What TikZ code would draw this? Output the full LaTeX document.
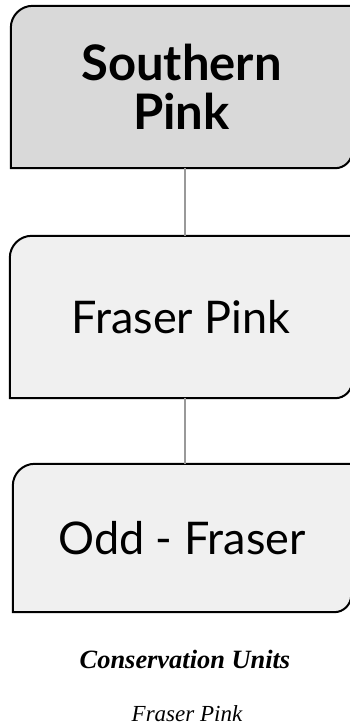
\documentclass[tikz,border=0pt]{standalone}
\usepackage{fontspec}
\newfontfamily\boxfont{Lato}
\newfontfamily\capfont{Liberation Serif}
\usetikzlibrary{calc,backgrounds}
\definecolor{topfill}{HTML}{D9D9D9}
\definecolor{boxfill}{HTML}{F0F0F0}
\definecolor{linkgray}{HTML}{999999}
\tikzset{
  cubox/.style={draw=none, inner sep=0pt, align=center,
    font=\boxfont\fontsize{45}{49}\selectfont},
  boxedge/.style={draw=black, line width=2pt},
  link/.style={draw=linkgray, line width=1.3pt},
  captext/.style={anchor=base, inner sep=0pt, font=\capfont\itshape}
}
\begin{document}
\begin{tikzpicture}[x=1pt,y=1pt]
\useasboundingbox (0,0) rectangle (350,-725);
\node[cubox, minimum width=341pt, minimum height=162pt] (b1) at (181.5,-87) {\fontsize{49}{49}\selectfont\bfseries Southern\\\fontsize{49}{49}\selectfont\bfseries Pink};
\node[cubox, minimum width=342pt, minimum height=162pt] (b2) at (181,-317) {Fraser Pink};
\node[cubox, minimum width=338pt, minimum height=148pt] (b3) at (182,-538) {Odd - Fraser};
\coordinate (cx) at (185,0);
\begin{scope}[on background layer]
\draw[boxedge, fill=topfill] (b1.south west) -- ($(b1.north west)+(0,-22)$) arc[start angle=180,end angle=90,radius=22pt] -- (b1.north east) -- ($(b1.south east)+(0,17)$) arc[start angle=0,end angle=-90,radius=17pt] -- cycle;
\draw[boxedge, fill=boxfill] (b2.south west) -- ($(b2.north west)+(0,-22)$) arc[start angle=180,end angle=90,radius=22pt] -- (b2.north east) -- ($(b2.south east)+(0,17)$) arc[start angle=0,end angle=-90,radius=17pt] -- cycle;
\draw[boxedge, fill=boxfill] (b3.south west) -- ($(b3.north west)+(0,-22)$) arc[start angle=180,end angle=90,radius=22pt] -- (b3.north east) -- ($(b3.south east)+(0,17)$) arc[start angle=0,end angle=-90,radius=17pt] -- cycle;
\end{scope}
\draw[link] (b1.south -| cx) -- (b2.north -| cx);
\draw[link] (b2.south -| cx) -- (b3.north -| cx);
\node[captext] (t1) at (185,-668.5) {\fontsize{26.4}{30}\selectfont\bfseries Conservation Units};
\node[captext] (t2) at (187,-721) {\fontsize{23}{27}\selectfont Fraser Pink};
\end{tikzpicture}
\end{document}
